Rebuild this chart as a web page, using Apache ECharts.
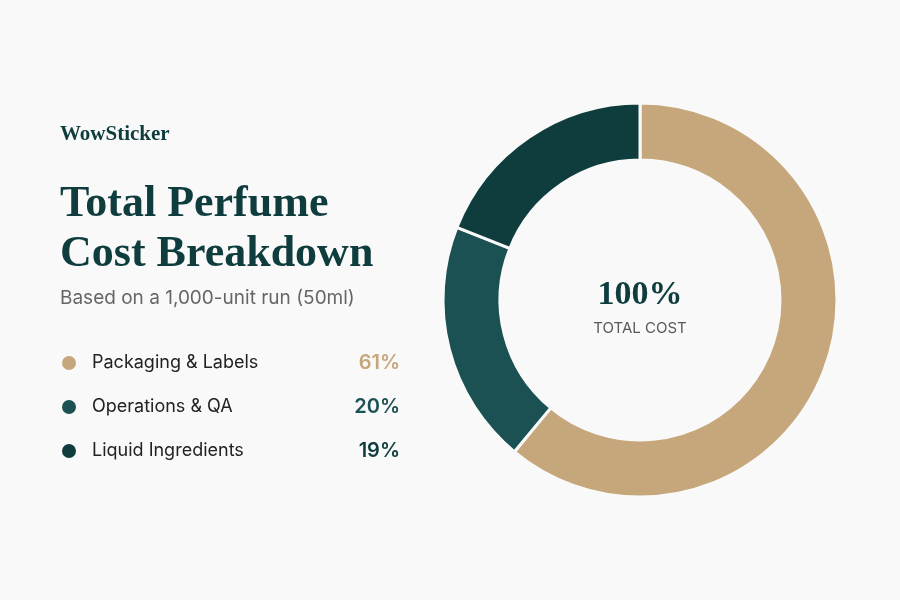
<!DOCTYPE html>
<html>
<head>
<meta charset="utf-8">
<script src="https://cdn.jsdelivr.net/npm/echarts@6/dist/echarts.min.js"></script>
<style>
html,body{margin:0;padding:0;background:#f9f9f9;}
#chart{width:900px;height:600px;}
</style>
</head>
<body>
<div id="chart"></div>
<script>
const categories = ['Packaging & Labels', 'Operations & QA', 'Liquid Ingredients'];
const values = [61, 20, 19];
const colors = ['#C6A77B', '#1B5152', '#0F3D3E'];
const brand = 'WowSticker';
const titleLines = ['Total Perfume', 'Cost Breakdown'];
const subtitle = 'Based on a 1,000-unit run (50ml)';
const centerValue = '100%';
const centerLabel = 'TOTAL COST';

const serif = '"Liberation Serif", "DejaVu Serif", serif';
const sans = 'Inter, "Noto Sans", sans-serif';

const chart = echarts.init(document.getElementById('chart'));
const rich = { s: { width: 10 }, n: { width: 238, fontSize: 18, color: '#222222', fontFamily: sans } };
colors.forEach((c, i) => {
  rich['v' + i] = { width: 70, align: 'right', fontSize: 20, fontWeight: 600, color: c, fontFamily: sans };
});

chart.setOption({
  backgroundColor: '#f9f9f9',
  animation: false,
  legend: {
    orient: 'vertical',
    left: 60,
    top: 353,
    padding: 0,
    icon: 'circle',
    itemWidth: 16,
    itemHeight: 16,
    itemGap: 24,
    selectedMode: false,
    data: categories,
    formatter: function (name) {
      const i = categories.indexOf(name);
      return '{s|}{n|' + name + '}{v' + i + '|' + values[i] + '%}';
    },
    textStyle: { rich: rich, fontFamily: sans }
  },
  graphic: [
    { type: 'text', left: 60, top: 124, style: { text: brand, font: 'bold 21px ' + serif, fill: '#0F3D3E' } },
    { type: 'text', left: 60, top: 180, style: { text: titleLines.join('\n'), font: 'bold 44px ' + serif, fill: '#0F3D3E', lineHeight: 50 } },
    { type: 'text', left: 60, top: 289, style: { text: subtitle, font: '19px ' + sans, fill: '#666666' } },
    { type: 'text', x: 640, y: 295, style: { text: centerValue, font: 'bold 34px ' + serif, fill: '#0F3D3E', align: 'center', verticalAlign: 'middle' } },
    { type: 'text', x: 640, y: 328, style: { text: centerLabel, font: '15px ' + sans, fill: '#5a5a5a', align: 'center', verticalAlign: 'middle' } }
  ],
  series: [{
    type: 'pie',
    center: [640, 300],
    radius: [140, 197],
    startAngle: 90,
    clockwise: true,
    silent: true,
    label: { show: false },
    labelLine: { show: false },
    itemStyle: { borderColor: '#f9f9f9', borderWidth: 3 },
    data: categories.map((c, i) => ({ name: c, value: values[i], itemStyle: { color: colors[i] } }))
  }]
});
</script>
</body>
</html>
